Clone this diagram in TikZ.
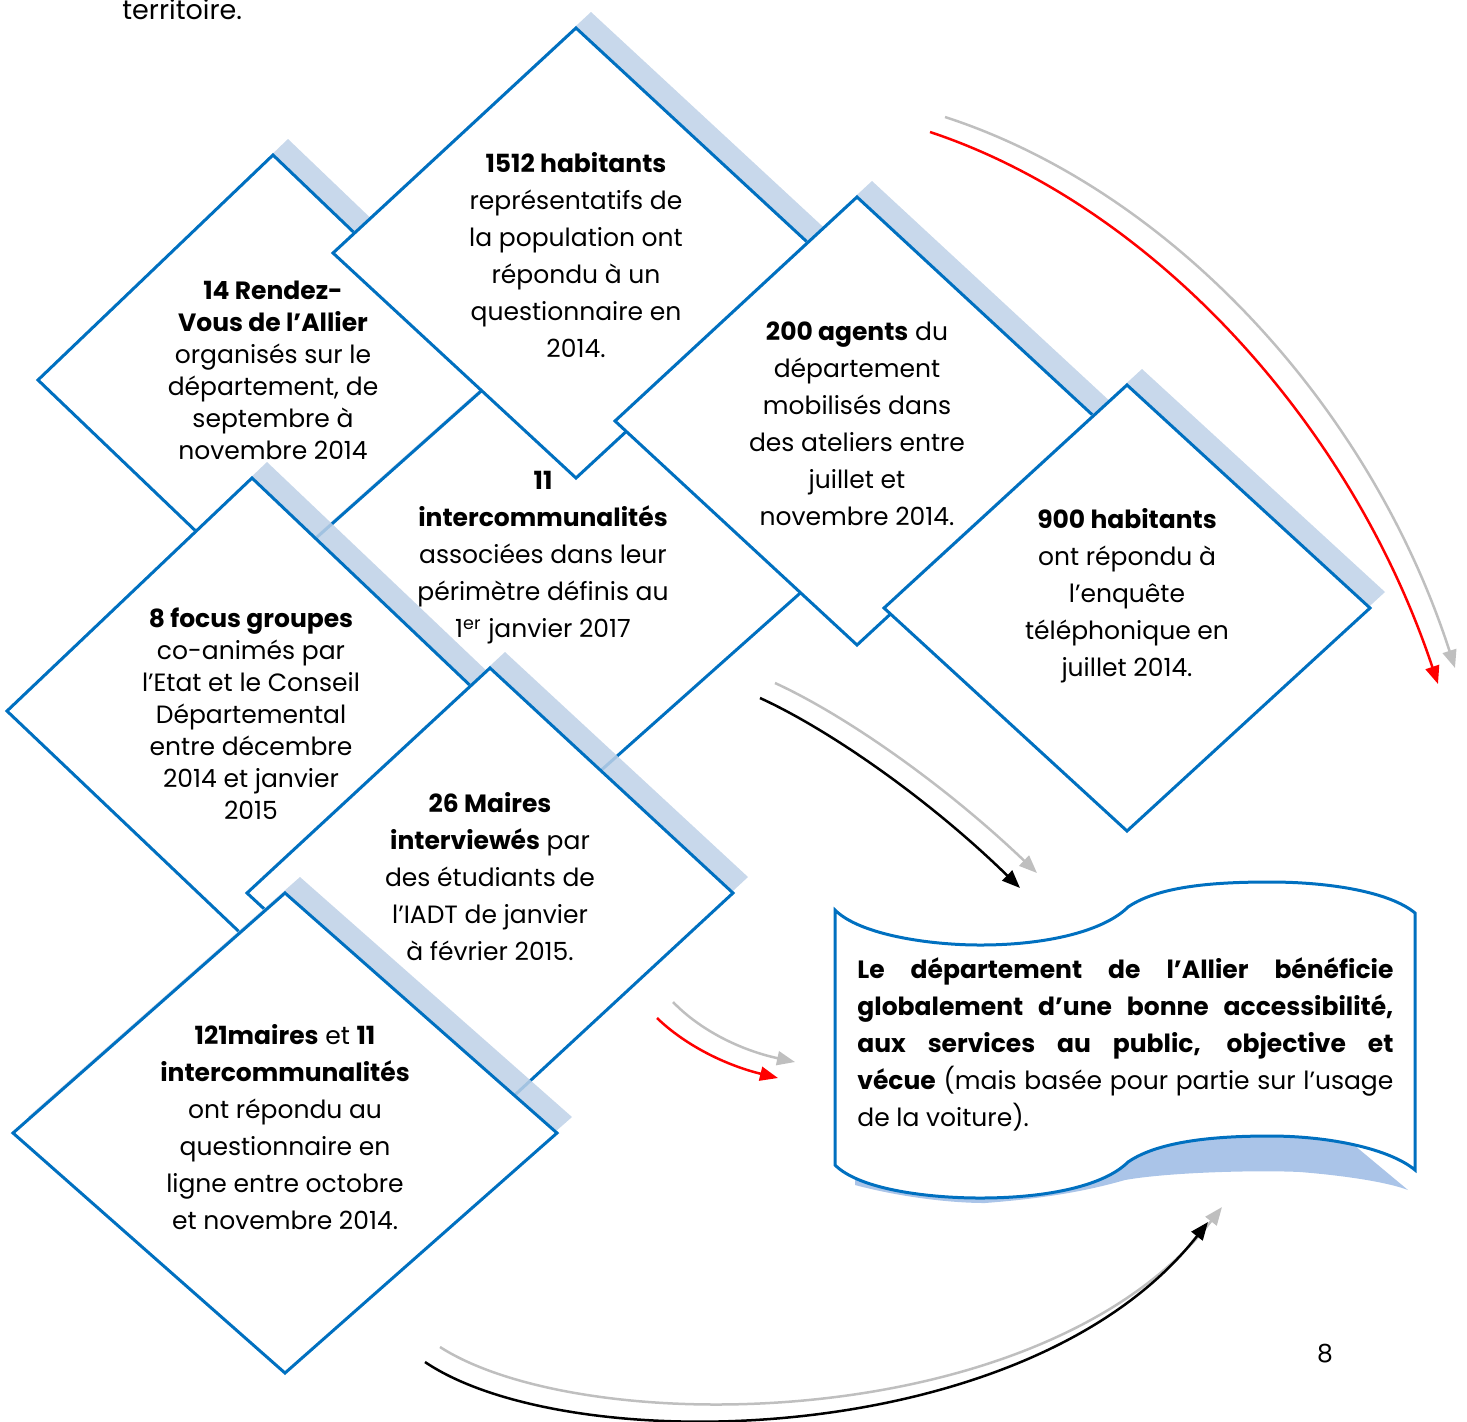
\documentclass[tikz,border=0pt]{standalone}
\usepackage{fontspec}
\setmainfont{Poppins}
\usetikzlibrary{arrows.meta}
\definecolor{diamblue}{RGB}{0,112,192}
\definecolor{shadeblue}{RGB}{190,209,231}
\definecolor{bannershade}{RGB}{170,196,232}
\definecolor{arrowgray}{RGB}{191,191,191}

\begin{document}
\begin{tikzpicture}[x=0.5pt,y=0.5pt,yscale=-1,xscale=1,
  diam/.style={draw=diamblue, line width=1.5pt, fill=white, line join=miter},
  shade/.style={fill=shadeblue, fill opacity=0.85, shift={(15,-16)}},
  txt/.style={align=center, inner sep=0pt, font=\fontsize{12.5}{18.5}\selectfont},
  txttight/.style={txt, font=\fontsize{12.5}{16}\selectfont},
  flow/.style={line width=1.25pt, -{Triangle[length=9pt,width=7pt]}}]
\useasboundingbox (0,0) rectangle (1467,1421);
% Text Node
\draw (122,19) node (prev) [anchor=base west, inner sep=0pt, font=\fontsize{13.5}{15}\selectfont] {territoire.};
%Shape: Diamond (rendez-vous)
\fill [shade] (273,155) -- (38,380) -- (273,605) -- (508,380) -- cycle ;
\draw [diam] (273,155) -- (38,380) -- (273,605) -- (508,380) -- cycle ;
%Shape: Diamond (intercommunalites)
\fill [shade] (543,336) -- (270,579) -- (543,822) -- (816,579) -- cycle ;
\draw [diam] (543,336) -- (270,579) -- (543,822) -- (816,579) -- cycle ;
%Shape: Diamond (1512 habitants)
\fill [shade] (576,28) -- (333,253) -- (576,478) -- (819,253) -- cycle ;
\draw [diam] (576,28) -- (333,253) -- (576,478) -- (819,253) -- cycle ;
%Shape: Diamond (agents)
\fill [shade] (857,197) -- (615,421) -- (857,645) -- (1099,421) -- cycle ;
\draw [diam] (857,197) -- (615,421) -- (857,645) -- (1099,421) -- cycle ;
%Shape: Diamond (900 habitants)
\fill [shade] (1127,385) -- (884,608) -- (1127,831) -- (1370,608) -- cycle ;
\draw [diam] (1127,385) -- (884,608) -- (1127,831) -- (1370,608) -- cycle ;
%Shape: Diamond (focus groupes)
\fill [shade] (252,478) -- (7,711) -- (252,944) -- (497,711) -- cycle ;
\draw [diam] (252,478) -- (7,711) -- (252,944) -- (497,711) -- cycle ;
%Shape: Diamond (26 maires)
\fill [shade] (490,668) -- (247,893) -- (490,1118) -- (733,893) -- cycle ;
\draw [diam] (490,668) -- (247,893) -- (490,1118) -- (733,893) -- cycle ;
%Shape: Diamond (121 maires)
\fill [shade] (285,893) -- (13,1133) -- (285,1373) -- (557,1133) -- cycle ;
\draw [diam] (285,893) -- (13,1133) -- (285,1373) -- (557,1133) -- cycle ;
%Shape: Wave (shadow)
\fill [bannershade] (855,1125) -- (855,1185) .. controls (900,1197) and (950,1203) .. (985,1203) .. controls (1050,1198) and (1090,1190) .. (1125,1180) .. controls (1170,1172) and (1260,1170) .. (1300,1172) .. controls (1350,1176) and (1390,1183) .. (1408,1190) -- (1330,1125) -- cycle ;
%Shape: Wave
\draw [diam] (835,910) .. controls (860,935) and (930,945) .. (980,945) .. controls (1050,945) and (1105,930) .. (1128,907) .. controls (1160,885) and (1220,882) .. (1270,882) .. controls (1330,882) and (1390,892) .. (1415,913) -- (1415,1170) .. controls (1390,1149) and (1330,1136) .. (1270,1136) .. controls (1220,1136) and (1160,1140) .. (1128,1162) .. controls (1105,1185) and (1050,1198) .. (980,1198) .. controls (930,1198) and (860,1190) .. (835,1165) -- cycle ;
% Text Node
\draw (273,370) node (rdv) [txttight] {\textbf{14 Rendez-}\\\textbf{Vous de l’Allier}\\organisés sur le\\département, de\\septembre à\\novembre 2014};
% Text Node
\draw (576,255) node (hab) [txt] {\textbf{1512 habitants}\\représentatifs de\\la population ont\\répondu à un\\questionnaire en\\2014.};
% Text Node
\draw (857,424) node (agents) [txt] {\textbf{200 agents} du\\département\\mobilisés dans\\des ateliers entre\\juillet et\\novembre 2014.};
% Text Node
\draw (543,558) node (interco) [txt] {\textbf{11}\\\textbf{intercommunalités}\\associées dans leur\\périmètre définis au\\1\textsuperscript{er} janvier 2017};
% Text Node
\draw (1127,596) node (tel) [txt] {\textbf{900 habitants}\\ont répondu à\\l’enquête\\téléphonique en\\juillet 2014.};
% Text Node
\draw (251,714) node (focus) [txttight] {\textbf{8 focus groupes}\\co-animés par\\l’Etat et le Conseil\\Départemental\\entre décembre\\2014 et janvier\\2015};
% Text Node
\draw (490,877) node (maires) [txt] {\textbf{26 Maires}\\\textbf{interviewés} par\\des étudiants de\\l’IADT de janvier\\à février 2015.};
% Text Node
\draw (285,1127) node (enligne) [txt] {\textbf{121maires} et \textbf{11}\\\textbf{intercommunalités}\\ont répondu au\\questionnaire en\\ligne entre octobre\\et novembre 2014.};
% Text Node
\draw (857,1044) node (concl) [anchor=west, inner sep=0pt, text width=268pt, align=justify, font=\fontsize{12.5}{18.5}\selectfont] {\textbf{Le département de l’Allier bénéficie\linebreak globalement d’une bonne accessibilité,\linebreak aux services au public, objective et\linebreak vécue} (mais basée pour partie sur l’usage\linebreak de la voiture).};
% Text Node
\draw (1325,1354) node (page) [inner sep=0pt, font=\fontsize{12.5}{15}\selectfont] {8};
%Curve Lines
\coordinate (r1s) at (930,132); \coordinate (r1e) at (1438,684);
\coordinate (g1s) at (945,117); \coordinate (g1e) at (1455,668);
\draw [flow, red] (r1s) .. controls (1150,205) and (1350,420) .. (r1e) ;
\draw [flow, arrowgray] (g1s) .. controls (1170,190) and (1370,405) .. (g1e) ;
%Curve Lines
\coordinate (b2s) at (760,698); \coordinate (b2e) at (1020,888);
\coordinate (g2s) at (775,683); \coordinate (g2e) at (1037,873);
\draw [flow, black] (b2s) .. controls (830,730) and (930,800) .. (b2e) ;
\draw [flow, arrowgray] (g2s) .. controls (845,715) and (945,785) .. (g2e) ;
%Curve Lines
\coordinate (g3s) at (673,1002); \coordinate (g3e) at (795,1062);
\coordinate (r3s) at (657,1018); \coordinate (r3e) at (778,1078);
\draw [flow, arrowgray] (g3s) .. controls (700,1030) and (740,1050) .. (g3e) ;
\draw [flow, red] (r3s) .. controls (685,1045) and (725,1065) .. (r3e) ;
%Curve Lines
\coordinate (b4s) at (425,1362); \coordinate (b4e) at (1208,1222);
\coordinate (g4s) at (440,1347); \coordinate (g4e) at (1222,1207);
\draw [flow, arrowgray] (g4s) .. controls (585,1440) and (1045,1435) .. (g4e) ;
\draw [flow, black] (b4s) .. controls (570,1460) and (1030,1450) .. (b4e) ;
\end{tikzpicture}
\end{document}
